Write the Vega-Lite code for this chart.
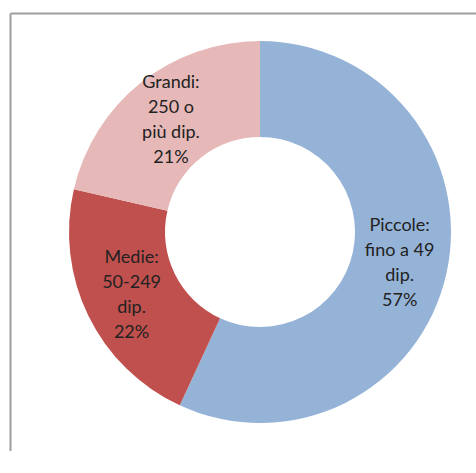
{
  "$schema": "https://vega.github.io/schema/vega-lite/v6.json",
  "width": 500,
  "height": 438,
  "autosize": {"type": "none"},
  "padding": {"left": 10, "top": 13, "right": 0, "bottom": 0},
  "background": "white",
  "config": {"view": {"stroke": null}},
  "data": {"values": [
    {"cat": "Piccole", "label": "Piccole:\nfino a 49\ndip.\n57%", "value": 56.9, "ord": 1},
    {"cat": "Medie", "label": "Medie:\n50-249\ndip.\n22%", "value": 21.7, "ord": 2},
    {"cat": "Grandi", "label": "Grandi:\n250 o\npiù dip.\n21%", "value": 21.4, "ord": 3}
  ]},
  "layer": [
    {
      "mark": {"type": "point", "opacity": 0},
      "encoding": {
        "x": {"datum": 0, "type": "quantitative", "scale": {"domain": [0, 1]},
          "axis": {"orient": "top", "domain": true, "domainColor": "#9e9e9e", "domainWidth": 2, "ticks": false, "labels": false, "grid": false, "title": null}},
        "y": {"datum": 0, "type": "quantitative", "scale": {"domain": [0, 1]},
          "axis": {"orient": "left", "domain": true, "domainColor": "#9e9e9e", "domainWidth": 2, "ticks": false, "labels": false, "grid": false, "title": null}}
      }
    },
    {
      "mark": {"type": "arc", "innerRadius": 95, "outerRadius": 191},
      "encoding": {
        "theta": {"field": "value", "type": "quantitative", "stack": true},
        "order": {"field": "ord", "type": "quantitative"},
        "color": {"field": "cat", "type": "nominal",
          "scale": {"domain": ["Piccole", "Medie", "Grandi"], "range": ["#95B3D7", "#C0504D", "#E6B9B8"]},
          "legend": null}
      }
    },
    {
      "mark": {"type": "text", "radius": 143, "lineBreak": "\n", "lineHeight": 25, "fontSize": 18, "font": "Lato", "color": "#222222", "align": "center", "baseline": "middle", "dy": -37},
      "encoding": {
        "theta": {"field": "value", "type": "quantitative", "stack": true},
        "order": {"field": "ord", "type": "quantitative"},
        "text": {"field": "label"}
      }
    }
  ]
}
